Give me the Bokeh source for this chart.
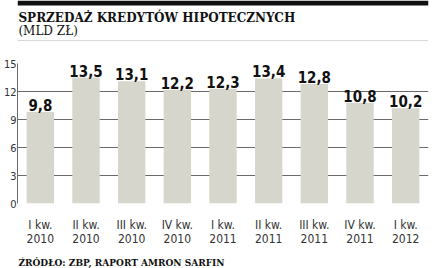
from bokeh.plotting import figure
from bokeh.layouts import column
from bokeh.models import (FactorRange, FixedTicker, BoxAnnotation, ColumnDataSource, Range1d)
from bokeh.core.properties import value
from bokeh.embed import file_html
from bokeh.resources import INLINE

quarters = ["I kw.\n2010", "II kw.\n2010", "III kw.\n2010", "IV kw.\n2010",
            "I kw.\n2011", "II kw.\n2011", "III kw.\n2011", "IV kw.\n2011", "I kw.\n2012"]
values = [9.8, 13.5, 13.1, 12.2, 12.3, 13.4, 12.8, 10.8, 10.2]
value_labels = ["9,8", "13,5", "13,1", "12,2", "12,3", "13,4", "12,8", "10,8", "10,2"]
y_ticks = [0, 3, 6, 9, 12, 15]

title_text = "SPRZEDAŻ KREDYTÓW HIPOTECZNYCH"
subtitle_text = "(MLD ZŁ)"
source_text = "ŹRÓDŁO: ZBP, RAPORT AMRON SARFIN"

COND = "DejaVu Sans Condensed"
SERIF = "DejaVu Serif"
W = 439
TOP_H, MAIN_H, BOT_H = 41, 207, 20


def strip(h):
    f = figure(width=W, height=h, x_range=Range1d(0, W), y_range=Range1d(h, 0),
               output_backend="svg", toolbar_location=None, x_axis_type=None,
               y_axis_type=None, min_border=0, min_border_left=0, min_border_right=0,
               min_border_top=0, min_border_bottom=0)
    f.grid.visible = False
    f.outline_line_color = None
    f.background_fill_color = "white"
    f.border_fill_color = "white"
    return f


# header strip
top = strip(TOP_H)
top.add_layout(BoxAnnotation(left=0, right=W, top=0, bottom=5, fill_color="#111111",
                             fill_alpha=1, line_color=None))
top.add_layout(BoxAnnotation(left=0, right=W, top=40, bottom=41, fill_color="#b4b4b4",
                             fill_alpha=1, line_color=None))
top.text(x=[1], y=[17], text=[title_text], text_font=value(SERIF), text_font_style="bold",
         text_font_size="12px", text_color="#111111", text_baseline="middle")
top.text(x=[1], y=[30], text=[subtitle_text], text_font=value(SERIF),
         text_font_size="12px", text_color="#111111", text_baseline="middle")

# main chart
src = ColumnDataSource(dict(q=quarters, v=values, lab=value_labels))
p = figure(width=W, height=MAIN_H, x_range=FactorRange(*quarters, range_padding=0),
           y_range=(0, 15), output_backend="svg", toolbar_location=None,
           min_border_left=17, min_border_right=11, min_border_top=22, min_border_bottom=44)
p.outline_line_color = None
p.background_fill_color = "white"
p.border_fill_color = "white"

p.vbar(x="q", top="v", width=0.6, source=src, fill_color="#d6d6cc", line_color=None)
p.text(x="q", y="v", text="lab", source=src, text_align="center", text_baseline="bottom",
       y_offset=-1, text_font=value(COND), text_font_style="bold",
       text_font_size="15px", text_color="#111111")

p.xgrid.grid_line_color = None
p.ygrid.ticker = FixedTicker(ticks=y_ticks)
p.ygrid.grid_line_color = "#6a6a6a"
p.ygrid.grid_line_width = 1

p.yaxis.ticker = FixedTicker(ticks=y_ticks)
p.yaxis.axis_line_color = "#6a6a6a"
p.yaxis.major_tick_line_color = None
p.yaxis.minor_tick_line_color = None
p.yaxis.major_tick_out = 0
p.yaxis.major_tick_in = 0
p.yaxis.minor_tick_out = 0
p.yaxis.major_label_standoff = 1
p.yaxis.major_label_text_font = COND
p.yaxis.major_label_text_font_size = "11px"
p.yaxis.major_label_text_color = "#333333"

p.xaxis.axis_line_color = None
p.xaxis.major_tick_line_color = None
p.xaxis.major_tick_out = 0
p.xaxis.major_tick_in = 0
p.xaxis.major_label_standoff = 14
p.xaxis.major_label_text_font = COND
p.xaxis.major_label_text_font_size = "12px"
p.xaxis.major_label_text_color = "#333333"
p.xaxis.major_label_text_line_height = 1.0

# footer strip
bot = strip(BOT_H)
bot.text(x=[1], y=[14], text=[source_text], text_font=value(SERIF), text_font_style="bold",
         text_font_size="9px", text_color="#111111", text_baseline="middle")

layout = column(top, p, bot, spacing=0)
open("out.html", "w").write(file_html(layout, INLINE))
